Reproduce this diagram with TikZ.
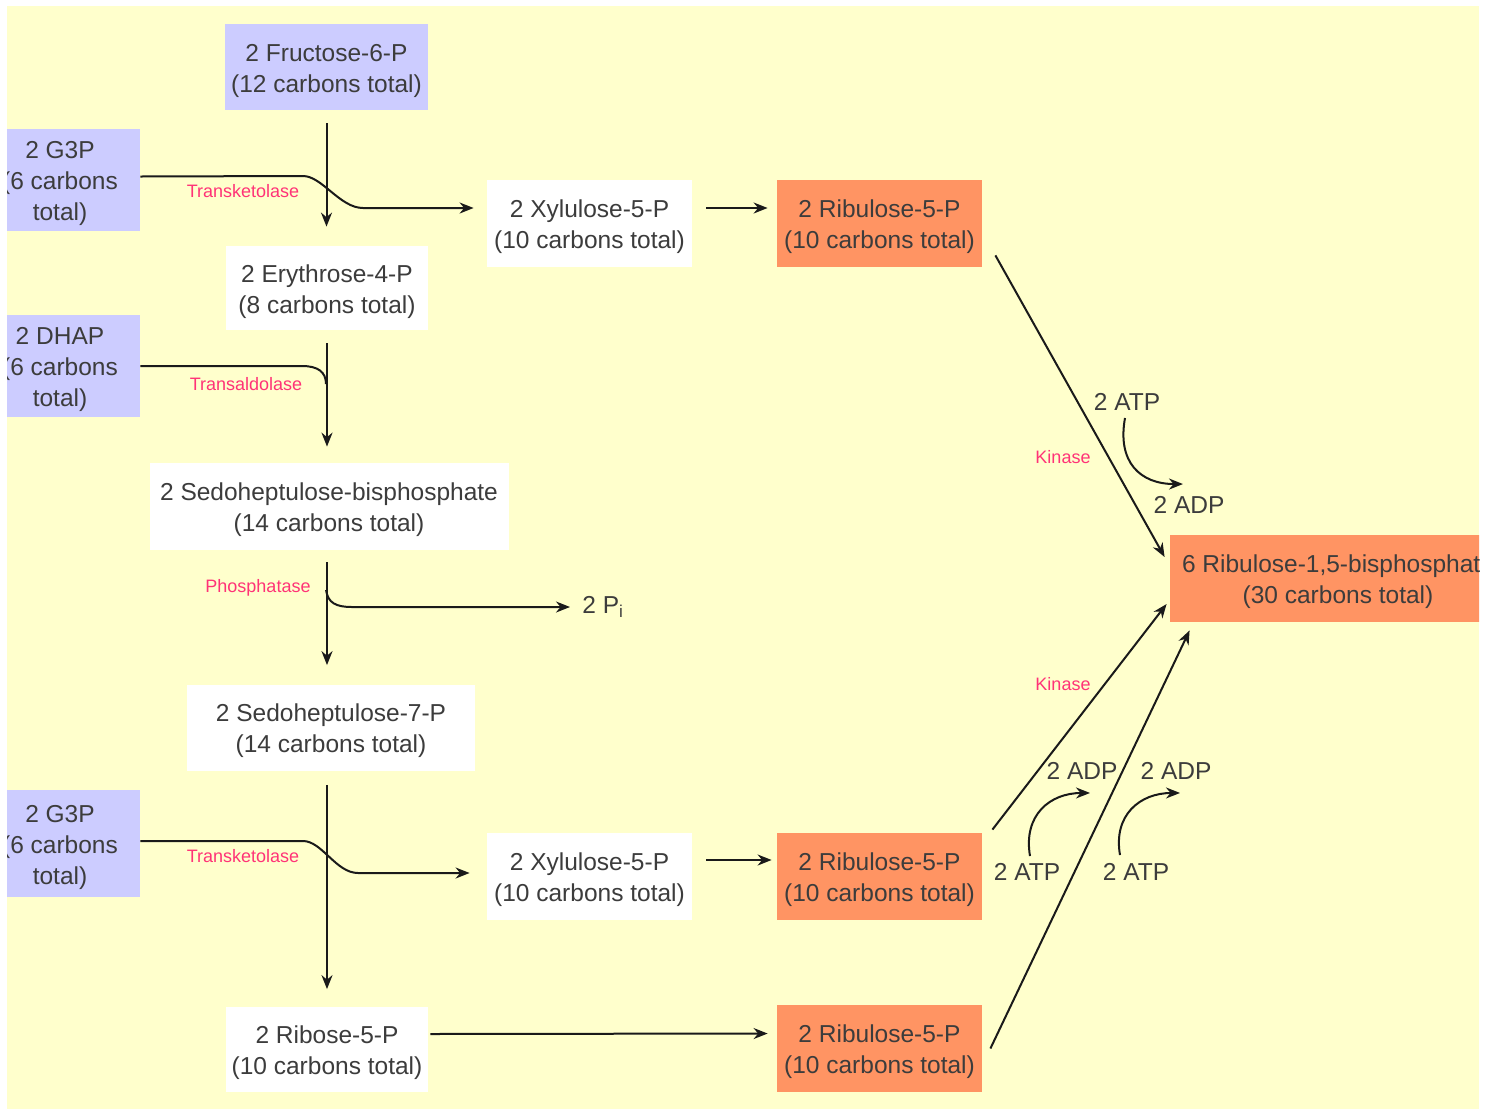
\documentclass[tikz,border=0pt]{standalone}
\usepackage{fontspec}
\setmainfont{Liberation Sans}
\usetikzlibrary{arrows.meta}
\definecolor{bg}{HTML}{FFFFCC}
\definecolor{bluebox}{HTML}{CCCCFF}
\definecolor{orangebox}{HTML}{FF9463}
\definecolor{txt}{HTML}{3C3C3C}
\definecolor{enz}{HTML}{FF3377}
\definecolor{lnc}{HTML}{1A1A1A}
\newcommand{\myst}{\rule{0pt}{12.2pt}}
\begin{document}
\begin{tikzpicture}[x=0.5pt,y=-0.5pt,
  box/.style={inner sep=0pt, align=center, text=txt, font=\fontsize{12.25}{15.5}\selectfont},
  wbox/.style={box, fill=white},
  bbox/.style={box, fill=bluebox},
  obox/.style={box, fill=orangebox},
  small/.style={minimum width=102.5pt, minimum height=43.5pt},
  enzyme/.style={text=enz, font=\fontsize{9}{10}\selectfont, inner sep=0pt},
  lbl/.style={text=txt, font=\fontsize{12.25}{15.5}\selectfont, inner sep=0pt},
  arr/.style={draw=lnc, line width=1pt, -{Stealth[length=7pt,width=5.5pt]}},
  ln/.style={draw=lnc, line width=1pt}]
\useasboundingbox (0,0) rectangle (1494,1109);
\fill[white] (0,0) rectangle (1494,1109);
\fill[bg] (7,6) rectangle (1479,1109);
\begin{scope}
\clip (7,6) rectangle (1479,1109);
% nodes
\node[bbox, minimum width=101.5pt, minimum height=43pt] (fru) at (326.5,67) {\myst 2 Fructose-6-P\\(12 carbons total)};
\node[bbox, minimum width=80pt, minimum height=51pt] (g3pa) at (60,179.5) {\myst 2 G3P\\(6 carbons\\total)};
\node[wbox, minimum width=101pt, minimum height=42pt] (ery) at (327,288) {\myst 2 Erythrose-4-P\\(8 carbons total)};
\node[bbox, minimum width=80pt, minimum height=51pt] (dhap) at (60,366) {\myst 2 DHAP\\(6 carbons\\total)};
\node[wbox, minimum width=179.5pt, minimum height=43.5pt] (sbp) at (329,506.5) {\myst 2 Sedoheptulose-bisphosphate\\(14 carbons total)};
\node[wbox, minimum width=144pt, minimum height=43pt] (s7p) at (331,727.5) {\myst 2 Sedoheptulose-7-P\\(14 carbons total)};
\node[bbox, minimum width=80pt, minimum height=53.5pt] (g3pb) at (60,843.5) {\myst 2 G3P\\(6 carbons\\total)};
\node[wbox, minimum width=101pt, minimum height=42.5pt] (rib) at (327,1049) {\myst 2 Ribose-5-P\\(10 carbons total)};
\node[wbox, small] (xyla) at (589.5,223.5) {\myst 2 Xylulose-5-P\\(10 carbons total)};
\node[obox, small] (rua) at (879.5,223.5) {\myst 2 Ribulose-5-P\\(10 carbons total)};
\node[wbox, small] (xylb) at (589.5,876.5) {\myst 2 Xylulose-5-P\\(10 carbons total)};
\node[obox, small] (rub) at (879.5,876.5) {\myst 2 Ribulose-5-P\\(10 carbons total)};
\node[obox, small] (ruc) at (879.5,1048.5) {\myst 2 Ribulose-5-P\\(10 carbons total)};
\node[obox, minimum width=168pt, minimum height=43.5pt] (rubp) at (1338,578.5) {\myst 6 Ribulose-1,5-bisphosphate\\(30 carbons total)};
\node[lbl, anchor=west] (pi) at (582,607) {2 P\textsubscript{i}};
% enzyme labels
\node[enzyme] (tk1) at (243,191) {Transketolase};
\node[enzyme] (ta) at (246,384) {Transaldolase};
\node[enzyme] (ph) at (258,588) {Phosphatase};
\node[enzyme] (tk2) at (243,856) {Transketolase};
\node[enzyme] (kin1) at (1063,457) {Kinase};
\node[enzyme] (kin2) at (1063,684) {Kinase};
% ATP / ADP labels
\node[lbl] (atp1) at (1127,402) {2 ATP};
\node[lbl] (adp1) at (1189,505) {2 ADP};
\node[lbl] (adp2) at (1082,771) {2 ADP};
\node[lbl] (adp3) at (1176,771) {2 ADP};
\node[lbl] (atp2) at (1027,872) {2 ATP};
\node[lbl] (atp3) at (1136,872) {2 ATP};
\coordinate (phb) at (326,590);
% left trunk
\draw[arr, shorten <=6.5pt, shorten >=9.5pt] (fru.south) -- (fru.south |- ery.north);
\draw[arr] ([yshift=1.5pt]g3pa.east) -- (303,176) .. controls (322,176) and (340,208) .. (363,208) -- ([xshift=-6.5pt,yshift=7.75pt]xyla.west);
\draw[arr, shorten <=6.5pt, shorten >=8pt] (ery.south) -- (ery.south |- sbp.north);
\draw[ln] (dhap.east) -- (302,366) .. controls (318,366) and (326,372) .. (326,384);
\draw[arr, shorten <=6pt, shorten >=9.5pt] (ery.south |- sbp.south) -- (ery.south |- s7p.north);
\draw[arr, shorten >=6pt] (phb) .. controls (328,603) and (336,607) .. (352,607) -- (pi.west);
\draw[arr, shorten <=7pt, shorten >=8.5pt] (ery.south |- s7p.south) -- (ery.south |- rib.north);
\draw[arr] ([yshift=1.25pt]g3pb.east) -- (303,841) .. controls (322,841) and (336,873) .. (358,873) -- ([xshift=-8.5pt,yshift=1.75pt]xylb.west);
% horizontal transfers
\draw[arr, shorten <=7pt, shorten >=4.5pt] ([yshift=7.75pt]xyla.east) -- ([yshift=7.75pt]rua.west);
\draw[arr, shorten <=7pt, shorten >=2.5pt] ([yshift=8.25pt]xylb.east) -- ([yshift=8.25pt]rub.west);
\draw[arr, shorten <=1pt, shorten >=4.5pt] ([yshift=7.5pt]rib.east) -- ([yshift=7.5pt]ruc.west);
% kinase lines
\draw[arr] ([xshift=6.5pt,yshift=6pt]rua.south east) -- ([xshift=-2.5pt,yshift=10.75pt]rubp.west);
\draw[arr] ([xshift=5pt,yshift=1.5pt]rub.north east) -- ([xshift=-1.5pt,yshift=-12.75pt]rubp.west);
\draw[arr] ([xshift=4pt]ruc.east) -- ([xshift=10pt,yshift=-4pt]rubp.south west);
% ATP curves
\draw[arr] ([xshift=-1pt,yshift=-3.5pt]atp1.south) .. controls (1117,462) and (1140,484) .. ([xshift=-3pt,yshift=6pt]adp1.north);
\draw[arr] ([xshift=1.5pt,yshift=3.5pt]atp2.north) .. controls (1023,815) and (1050,793) .. ([xshift=4pt,yshift=-6.5pt]adp2.south);
\draw[arr] ([xshift=-8pt,yshift=4pt]atp3.north) .. controls (1113,815) and (1140,793) .. ([xshift=2pt,yshift=-6.5pt]adp3.south);
\end{scope}
\end{tikzpicture}
\end{document}
